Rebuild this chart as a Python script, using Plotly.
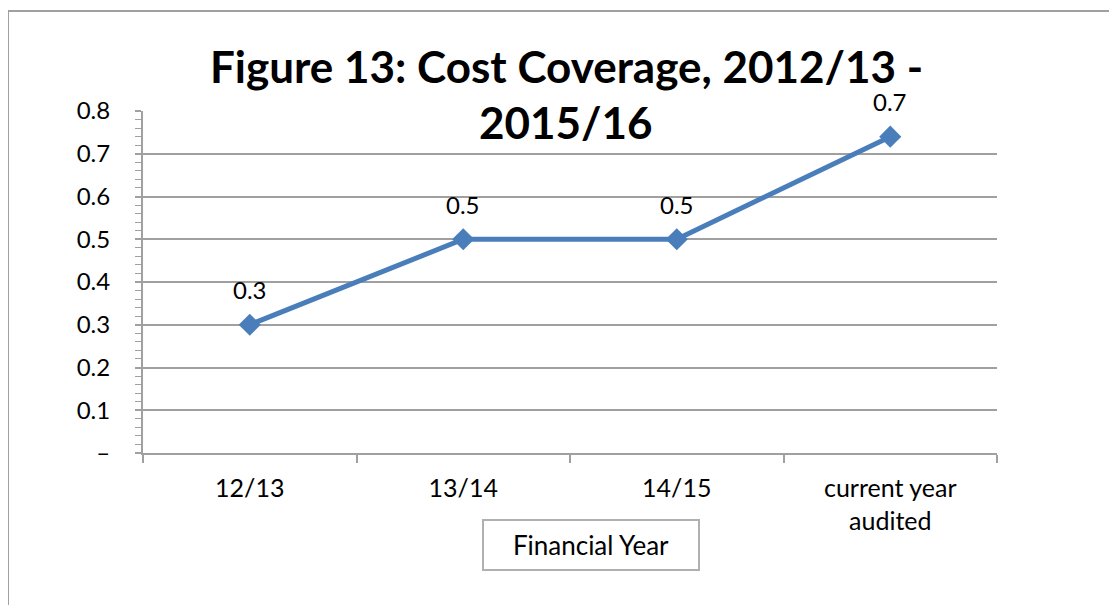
import plotly.graph_objects as go

categories = ["12/13", "13/14", "14/15", "current year<br>audited"]
values = [0.30, 0.50, 0.50, 0.74]
y_tick_vals = [0, 0.1, 0.2, 0.3, 0.4, 0.5, 0.6, 0.7, 0.8]
y_tick_text = ["–", "0.1", "0.2", "0.3", "0.4", "0.5", "0.6", "0.7", "0.8"]
title_lines = ["Figure 13: Cost Coverage, 2012/13 -", "2015/16"]
x_title = "Financial Year"

FONT = "Lato, 'Open Sans', sans-serif"
GRID = "#a0a0a0"
BLUE = "#4a7ebb"

OFF = 8  # page body margin
W, H = 1117, 605
pw, ph = 854, 342
L, T = 143 - OFF, 111 - OFF
R, B = W - L - pw, H - T - ph


def px_x(p):
    return (p - OFF - L) / pw


def px_y(p):
    return (H - B - (p - OFF)) / ph


fig = go.Figure()
fig.add_trace(go.Scatter(
    x=categories, y=values, mode="lines+markers",
    line=dict(color=BLUE, width=5),
    marker=dict(symbol="diamond", size=17, color=BLUE),
    showlegend=False, hoverinfo="skip",
))

for c, v in zip(categories, values):
    fig.add_annotation(x=c, y=v, text=f"{v:.1f}", showarrow=False,
                       yshift=35, font=dict(family=FONT, size=24, color="black"))

fig.add_annotation(xref="paper", yref="paper", x=px_x(591), y=px_y(545),
                   xanchor="center", yanchor="middle",
                   text=x_title, showarrow=False, width=212, height=46,
                   bordercolor="#b0b0b0", borderwidth=2, bgcolor="white",
                   font=dict(family=FONT, size=26, color="black"))

for line, yc in zip(title_lines, [66, 122]):
    fig.add_annotation(xref="paper", yref="paper", x=px_x(566), y=px_y(yc),
                       xanchor="center", yanchor="middle", showarrow=False,
                       text=f"<b>{line}</b>",
                       font=dict(family=FONT, size=44, color="black"))

# outer chart border (left and top visible)
fig.add_shape(type="path", xref="paper", yref="paper",
              path=f"M {px_x(8)},{px_y(640)} L {px_x(8)},{px_y(11)} L {px_x(1140)},{px_y(11)}",
              line=dict(color=GRID, width=2))

fig.update_layout(
    width=W, height=H,
    margin=dict(l=L, r=R, t=T, b=B),
    paper_bgcolor="white", plot_bgcolor="white",
    xaxis=dict(
        type="category", showgrid=False, showline=True, linecolor=GRID, linewidth=2,
        ticks="outside", tickson="boundaries", ticklen=8, tickcolor=GRID, tickwidth=2,
        tickfont=dict(family=FONT, size=25, color="black"),
        ticklabelstandoff=12, range=[-0.5, 3.5],
    ),
    yaxis=dict(
        range=[0, 0.8], tickvals=y_tick_vals, ticktext=y_tick_text,
        showgrid=True, gridcolor=GRID, gridwidth=2,
        showline=True, linecolor=GRID, linewidth=2, zeroline=False,
        ticks="outside", ticklen=6, tickcolor=GRID, tickwidth=2,
        minor=dict(dtick=0.02, ticks="outside", ticklen=6, tickcolor=GRID, tickwidth=1, showgrid=False),
        tickfont=dict(family=FONT, size=24, color="black"),
        ticklabelstandoff=20,
    ),
)

fig.write_html("out.html")
